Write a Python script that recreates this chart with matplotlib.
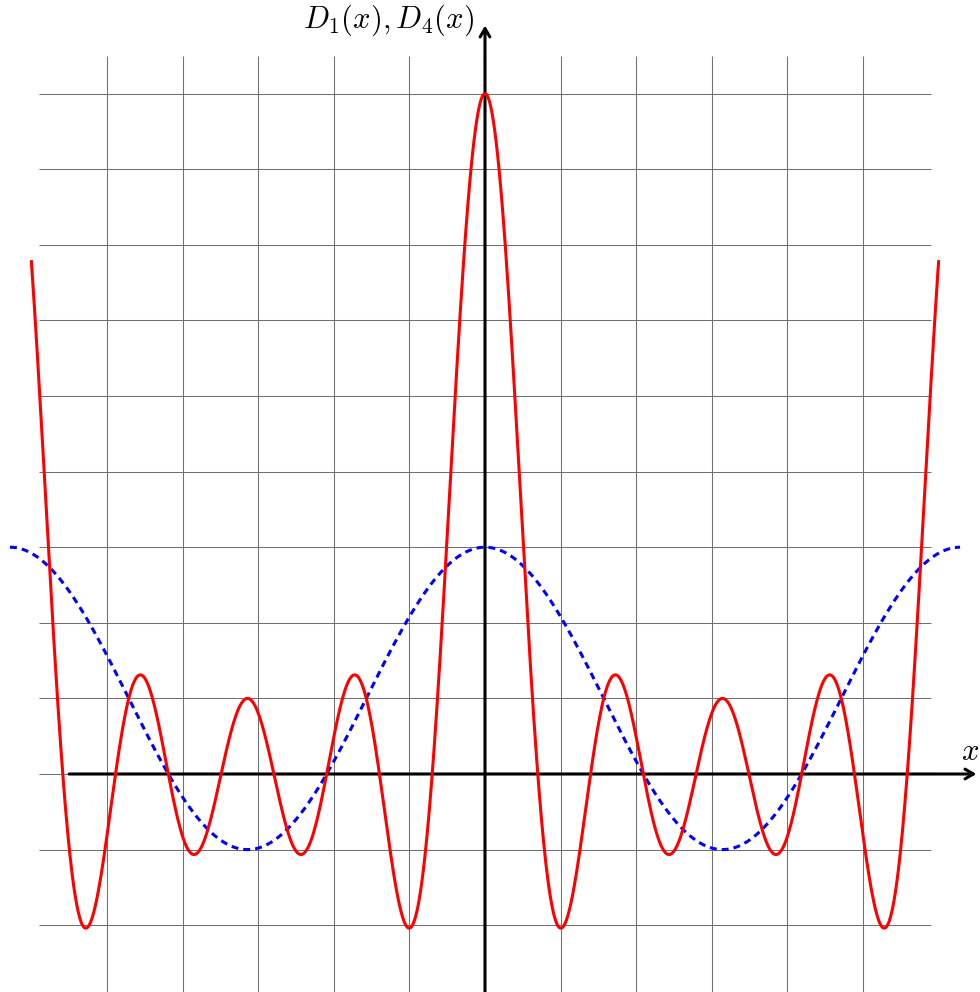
import numpy as np
import matplotlib
matplotlib.use('Agg')
import matplotlib.pyplot as plt

plt.rcParams['mathtext.fontset'] = 'cm'
plt.rcParams['lines.scale_dashes'] = False

# Dirichlet kernel orders and their plotted domains
orders = [1, 4]
domains = [(-2 * np.pi, 2 * np.pi), (-6.0, 6.0)]
colors = ['blue', 'red']
styles = ['dashed', 'solid']

# grid extent and ticks
grid_x = list(range(-5, 6))
grid_y = list(range(-2, 10))
grid_xlim = (-5.9, 5.9)
grid_ylim = (-2.9, 9.5)

# axis arrows
xaxis = (-5.5, 6.5)
yaxis = (-2.9, 9.9)
ylabel = r'$D_1(x), D_4(x)$'
xlabel = r'$x$'


def dirichlet(n, x):
    # D_n(x) = 1 + 2 sum cos(kx)
    k = np.arange(1, n + 1)
    return 1 + 2 * np.cos(np.outer(x, k)).sum(axis=1)


fig = plt.figure(figsize=(9.8, 9.92), dpi=100)
ax = fig.add_axes([0, 0, 1, 1])
ax.set_xlim(-485 / 75.6, 495 / 75.6)
ax.set_ylim(-218 / 75.6, 774 / 75.6)
ax.axis('off')

ax.hlines(grid_y, grid_xlim[0], grid_xlim[1], color='#707070', lw=0.75, zorder=1)
ax.vlines(grid_x, grid_ylim[0], grid_ylim[1], color='#707070', lw=0.75, zorder=1)

arrow = dict(arrowstyle='->,head_length=0.6,head_width=0.35', lw=2.2, color='black',
             shrinkA=0, shrinkB=0)
ax.annotate('', xy=(xaxis[1], 0), xytext=(xaxis[0], 0), arrowprops=arrow, zorder=2)
ax.annotate('', xy=(0, yaxis[1]), xytext=(0, yaxis[0]), arrowprops=arrow, zorder=2)

for n, (a, b), c, s in zip(orders, domains, colors, styles):
    xs = np.linspace(a, b, 1200)
    line, = ax.plot(xs, dirichlet(n, xs), color=c, lw=2.2, zorder=3)
    if s == 'dashed':
        line.set_dashes((5.0, 3.6))

ax.text(-0.15, 9.97, ylabel, ha='right', va='center', fontsize=22)
ax.text(6.29, 0.1, xlabel, ha='left', va='bottom', fontsize=22)

plt.savefig('out.png', dpi=100)
plt.close()
